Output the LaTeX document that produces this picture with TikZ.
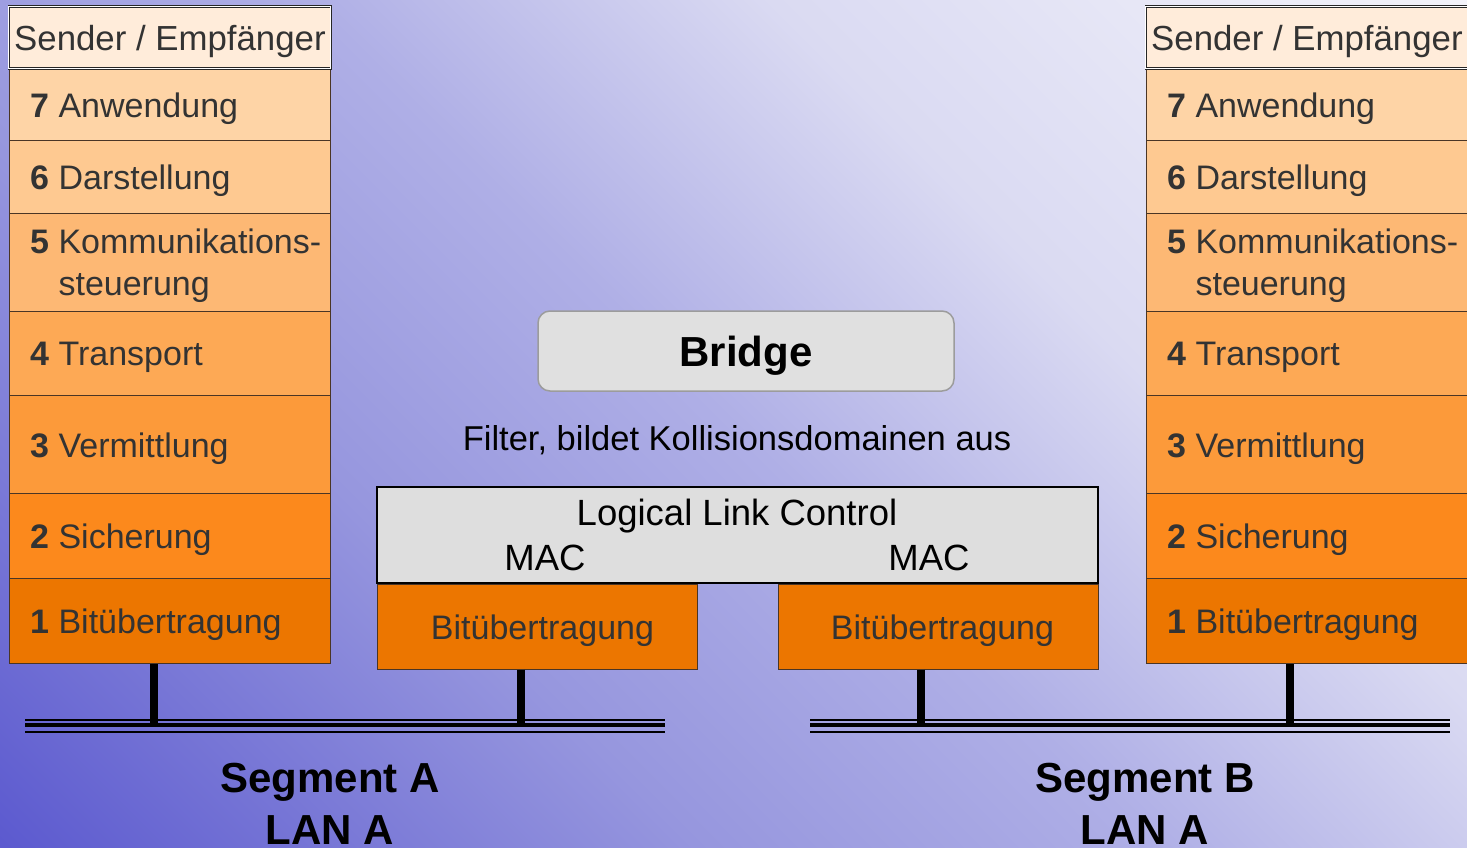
\documentclass[tikz,border=0pt]{standalone}
\usepackage{fontspec}
\setmainfont{Liberation Sans}
\usetikzlibrary{calc}
\definecolor{bgA}{HTML}{5C5ACF}
\definecolor{bgB}{HTML}{9696DE}
\definecolor{bgC}{HTML}{AFAFE6}
\definecolor{bgD}{HTML}{DADAF2}
\definecolor{bgE}{HTML}{F3F3FA}
\definecolor{hdrfill}{HTML}{FFECDA}
\definecolor{Lseven}{HTML}{FED4A6}
\definecolor{Lsix}{HTML}{FEC991}
\definecolor{Lfive}{HTML}{FDB874}
\definecolor{Lfour}{HTML}{FDA955}
\definecolor{Lthree}{HTML}{FC9A3A}
\definecolor{Ltwo}{HTML}{FC891C}
\definecolor{Lone}{HTML}{EC7600}
\definecolor{txtgray}{HTML}{333333}
\definecolor{laybord}{HTML}{4A3525}
\definecolor{bridgefill}{HTML}{E0E0E0}
\definecolor{bridgebord}{HTML}{9C9C9C}
\definecolor{llcfill}{HTML}{DEDEDE}
\pgfdeclareverticalshading{bgdiag}{100bp}{color(0bp)=(bgA); color(14.64bp)=(bgA); color(35.86bp)=(bgB); color(50bp)=(bgC); color(64.14bp)=(bgD); color(85.36bp)=(bgE); color(100bp)=(bgE)}
\newcommand\stackfont{\fontsize{34}{42}\selectfont}
\newcommand\llcfont{\fontsize{36.5}{42}\selectfont}
\newcommand\bigbold{\fontsize{42}{52}\selectfont\bfseries}
\tikzset{
  layer/.style={draw=laybord, line width=1pt, anchor=north west, minimum width=321pt, inner sep=0pt},
  laytext/.style={anchor=west, inner sep=0pt, font=\stackfont, text=txtgray, align=left},
  hdr/.style={draw=black!85, double=white, double distance=1pt, line width=0.9pt, fill=hdrfill,
    anchor=north west, minimum width=322pt, minimum height=62pt, inner sep=0pt},
  bridgebox/.style={draw=bridgebord, line width=1.5pt, fill=bridgefill, rounded corners=12pt,
    minimum width=416pt, minimum height=80pt},
  llcbox/.style={draw=black, line width=2.5pt, fill=llcfill, minimum width=721pt, minimum height=96pt},
  physbox/.style={draw=laybord, line width=1pt, fill=Lone, anchor=north west, minimum width=320pt,
    minimum height=85pt},
  drop/.style={line width=8pt},
  busthin/.style={line width=2.5pt},
  busthick/.style={line width=3.8pt},
  plain/.style={inner sep=0pt}
}
\begin{document}
\begin{tikzpicture}[x=1pt,y=-1pt]
\useasboundingbox (0,0) rectangle (1467,848);
\shade[shading=bgdiag, shading angle=-45] (0,0) rectangle (1467,848);

% stacks
\foreach \s/\x in {a/9, b/1146}{
  \node[layer, fill=Lseven, minimum height=72pt] (\s7) at (\x,68) {};
  \node[layer, fill=Lsix, minimum height=73pt] (\s6) at (\x,140) {};
  \node[layer, fill=Lfive, minimum height=98pt] (\s5) at (\x,213) {};
  \node[layer, fill=Lfour, minimum height=84pt] (\s4) at (\x,311) {};
  \node[layer, fill=Lthree, minimum height=98pt] (\s3) at (\x,395) {};
  \node[layer, fill=Ltwo, minimum height=85pt] (\s2) at (\x,493) {};
  \node[layer, fill=Lone, minimum height=85pt] (\s1) at (\x,578) {};
  \node[hdr] (\s hdr) at ($(\x,6)+(-0.5,0)$) {};
  \node[plain, font=\fontsize{34.8}{42}\selectfont, text=txtgray] (\s hdrt) at ([yshift=-4pt]\s hdr.center) {Sender / Empfänger};
  \node[laytext] (\s7t) at ([xshift=21pt,yshift=-4pt]\s7.west) {\textbf{7} Anwendung};
  \node[laytext] (\s6t) at ([xshift=21pt,yshift=-4pt]\s6.west) {\textbf{6} Darstellung};
  \node[laytext] (\s5t) at ([xshift=21pt,yshift=-3pt]\s5.west) {\textbf{5} Kommunikations-\\\hphantom{\textbf{5} }steuerung};
  \node[laytext] (\s4t) at ([xshift=21pt,yshift=-4pt]\s4.west) {\textbf{4} Transport};
  \node[laytext] (\s3t) at ([xshift=21pt,yshift=-4pt]\s3.west) {\textbf{3} Vermittlung};
  \node[laytext] (\s2t) at ([xshift=21pt,yshift=-4pt]\s2.west) {\textbf{2} Sicherung};
  \node[laytext] (\s1t) at ([xshift=21pt,yshift=-4pt]\s1.west) {\textbf{1} Bitübertragung};
}

% bridge
\node[bridgebox] (bridge) at (746,351) {};
\node[plain, font=\bigbold] (bridget) at ([yshift=-5pt]bridge.center) {Bridge};
\node[plain, font=\fontsize{34.5}{40}\selectfont] (filter) at (737,440) {Filter, bildet Kollisionsdomainen aus};
\node[llcbox] (llc) at (737.5,535) {};
\node[plain, font=\llcfont] (llct) at (737,516) {Logical Link Control};
\node[plain, font=\llcfont] (macA) at (545,558) {MAC};
\node[plain, font=\llcfont] (macB) at (929,558) {MAC};
\node[physbox] (physA) at (377,583.5) {};
\node[physbox] (physB) at (778,583.5) {};
\node[plain, font=\stackfont, text=txtgray] (physAt) at ([xshift=5pt,yshift=-4pt]physA.center) {Bitübertragung};
\node[plain, font=\stackfont, text=txtgray] (physBt) at ([xshift=4pt,yshift=-4pt]physB.center) {Bitübertragung};

% buses
\coordinate (busAL) at (25,720);
\coordinate (busAR) at (665,720);
\coordinate (busBL) at (810,720);
\coordinate (busBR) at (1450,720);
\foreach \l/\r in {busAL/busAR, busBL/busBR}{
  \draw[busthin] (\l) -- (\r);
  \draw[busthick] ($(\l)+(0,5)$) -- ($(\r)+(0,5)$);
  \draw[busthin] ($(\l)+(0,12)$) -- ($(\r)+(0,12)$);
}
\coordinate (tapA1) at (153.5,726);
\coordinate (tapA2) at (521,726);
\coordinate (tapB1) at (921,726);
\coordinate (tapB2) at (1290,726);
\draw[drop] (a1.south -| tapA1) -- (tapA1);
\draw[drop] (physA.south -| tapA2) -- (tapA2);
\draw[drop] (physB.south -| tapB1) -- (tapB1);
\draw[drop] (b1.south -| tapB2) -- (tapB2);

% labels
\node[plain, font=\bigbold, align=center] (segA) at (330,803.5) {Segment A\\LAN A};
\node[plain, font=\bigbold, align=center] (segB) at (1145,803.5) {Segment B\\LAN A};
\end{tikzpicture}
\end{document}
